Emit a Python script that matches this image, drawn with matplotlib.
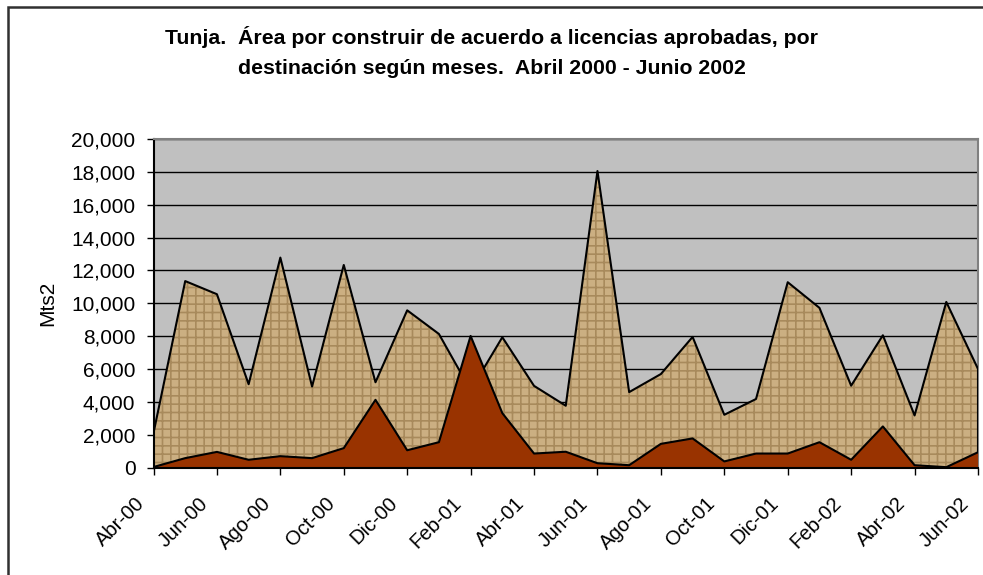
import matplotlib
matplotlib.use("Agg")
import matplotlib.pyplot as plt
from matplotlib.patches import Rectangle
from matplotlib.ticker import FuncFormatter
from matplotlib.transforms import ScaledTranslation
import numpy as np

months = ["Abr-00", "May-00", "Jun-00", "Jul-00", "Ago-00", "Sep-00", "Oct-00", "Nov-00", "Dic-00",
          "Ene-01", "Feb-01", "Mar-01", "Abr-01", "May-01", "Jun-01", "Jul-01", "Ago-01", "Sep-01",
          "Oct-01", "Nov-01", "Dic-01", "Ene-02", "Feb-02", "Mar-02", "Abr-02", "May-02", "Jun-02"]
serie_total = [2100, 11350, 10550, 5070, 12780, 4930, 12330, 5190, 9570, 8130, 4700, 7930, 4970,
               3760, 18050, 4590, 5690, 7950, 3210, 4170, 11280, 9720, 4980, 8050, 3170, 10080, 6000]
serie_otra = [30, 570, 950, 470, 690, 570, 1180, 4120, 1050, 1540, 8010, 3310, 850,
              960, 260, 140, 1440, 1770, 370, 850, 850, 1540, 470, 2500, 140, 20, 930]
y_ticks = [0, 2000, 4000, 6000, 8000, 10000, 12000, 14000, 16000, 18000, 20000]

plt.rcParams['font.family'] = ['Liberation Sans', 'DejaVu Sans']
plt.rcParams['hatch.linewidth'] = 1.2

fig = plt.figure(figsize=(9.83, 5.75), dpi=100)
fig.patch.set_facecolor('white')

ax = fig.add_axes([153.5/983, 1-467.5/575, (978-153.5)/983, (467.5-139)/575])
ax.set_facecolor('#C0C0C0')

x = np.arange(len(months))
ax.fill_between(x, 0, serie_total, facecolor='#CBAF82', edgecolor='#A88A5C',
                hatch='++', linewidth=0, zorder=2)
ax.plot(x, serie_total, color='black', lw=1.5, zorder=3)
ax.plot([x[-1], x[-1]], [0, serie_total[-1]], color='black', lw=1.5, zorder=3)
ax.fill_between(x, 0, serie_otra, facecolor='#993300', edgecolor='none', zorder=4)
ax.plot(x, serie_otra, color='black', lw=1.5, zorder=5)

ax.set_xlim(0, len(months)-1)
ax.set_ylim(0, 20000)
ax.set_yticks(y_ticks)
ax.yaxis.set_major_formatter(FuncFormatter(lambda v, p: f"{int(v):,}"))
ax.grid(axis='y', color='black', lw=1, zorder=1)
ax.set_axisbelow(True)

ax.set_xticks(x[::2])
ax.set_xticklabels(months[::2], rotation=45, ha='right', va='top', rotation_mode='anchor', fontsize=14.5)
ax.tick_params(axis='y', labelsize=15, length=5, width=1, direction='out', pad=8)
ax.tick_params(axis='x', length=5, width=1, direction='out', pad=6)
offset = ScaledTranslation(-19/100, -11/100, fig.dpi_scale_trans)
for lab in ax.get_xticklabels():
    lab.set_transform(lab.get_transform() + offset)

for s in ['top', 'right']:
    ax.spines[s].set_color('#808080')
    ax.spines[s].set_linewidth(1.5)
for s in ['left', 'bottom']:
    ax.spines[s].set_color('black')
    ax.spines[s].set_linewidth(1.5)
ax.spines['bottom'].set_zorder(6)

ax.set_ylabel('Mts2', fontsize=15, labelpad=10)

fig.text(492/983, 1-37/575, 'Tunja.  Área por construir de acuerdo a licencias aprobadas, por',
         ha='center', va='center', fontsize=15.3, fontweight='bold')
fig.text(492/983, 1-68/575, 'destinación según meses.  Abril 2000 - Junio 2002',
         ha='center', va='center', fontsize=15.3, fontweight='bold')

fig.patches.append(Rectangle((8/983, -0.2), 1.2, 1-7/575+0.2, transform=fig.transFigure,
                             fill=False, edgecolor='#303030', lw=1.8))

fig.savefig('out.png', dpi=100)
